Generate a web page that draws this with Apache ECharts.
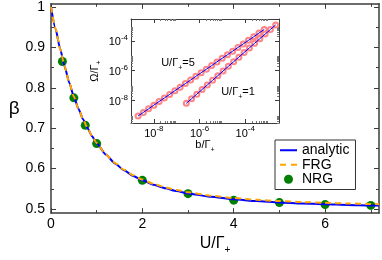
<!DOCTYPE html>
<html><head><meta charset="utf-8">
<script src="https://cdn.jsdelivr.net/npm/echarts@6/dist/echarts.min.js"></script>
<style>html,body{margin:0;padding:0;background:#fff}#c{width:382px;height:260px}</style>
</head><body><div id="c"></div>
<script>
// ---------- main panel data ----------
const U_analytic = [0, 0.1, 0.2, 0.3, 0.4, 0.5, 0.6, 0.7, 0.8, 0.9, 1.0, 1.2, 1.4, 1.6, 1.8, 2.0, 2.25, 2.5, 2.75, 3.0, 3.5, 4.0, 4.5, 5.0, 5.5, 6.0, 6.5, 7.0, 7.18];
const beta_analytic = [1.0, 0.9458, 0.8962, 0.8517, 0.8125, 0.7782, 0.7483, 0.7223, 0.6997, 0.6800, 0.6629, 0.6347, 0.6129, 0.5957, 0.5820, 0.5710, 0.5600, 0.5513, 0.5444, 0.5387, 0.5302, 0.5242, 0.5198, 0.5165, 0.5139, 0.5119, 0.5103, 0.5090, 0.5086];
const U_frg = [0, 0.1, 0.2, 0.3, 0.4, 0.5, 0.6, 0.7, 0.8, 0.9, 1.0, 1.2, 1.4, 1.6, 1.8, 2.0, 2.25, 2.5, 2.75, 3.0, 3.5, 4.0, 4.5, 5.0, 5.5, 6.0, 6.5, 7.0, 7.18];
const beta_frg = [1.0, 0.9458, 0.8962, 0.8517, 0.8125, 0.7782, 0.7484, 0.7224, 0.6999, 0.6803, 0.6633, 0.6352, 0.6139, 0.5970, 0.5836, 0.5729, 0.5622, 0.5537, 0.5470, 0.5415, 0.5332, 0.5273, 0.5230, 0.5198, 0.5172, 0.5153, 0.5138, 0.5125, 0.5121];
const U_nrg = [0.25, 0.5, 0.75, 1, 2, 3, 4, 5, 6, 7];
const beta_nrg = [0.865, 0.775, 0.707, 0.662, 0.571, 0.538, 0.522, 0.516, 0.511, 0.509];

const mainXMajor = [0, 2, 4, 6];
const mainXMinor = [1, 3, 5, 7];
const mainYMajor = [0.5, 0.6, 0.7, 0.8, 0.9, 1];
const mainYMinor = [0.55, 0.65, 0.75, 0.85, 0.95];

// ---------- inset data (log10 values) ----------
const logb_U5 = [-8.69, -8.46, -8.23, -8.00, -7.77, -7.54, -7.31, -7.08, -6.85, -6.62, -6.39, -6.16, -5.93, -5.70, -5.47, -5.24, -5.01, -4.78, -4.55, -4.32, -4.09, -3.86, -3.63, -3.40, -3.17];
const logOmega_U5 = [-9.05, -8.81, -8.57, -8.32, -8.08, -7.84, -7.60, -7.35, -7.11, -6.87, -6.63, -6.38, -6.14, -5.90, -5.66, -5.41, -5.17, -4.93, -4.69, -4.44, -4.20, -3.96, -3.72, -3.47, -3.23];
const logb_U1 = [-6.58, -6.35, -6.12, -5.89, -5.66, -5.43, -5.20, -4.97, -4.74, -4.51, -4.28, -4.05, -3.82, -3.59, -3.36, -3.13, -2.90, -2.67];
const logOmega_U1 = [-8.20, -7.89, -7.58, -7.27, -6.96, -6.65, -6.34, -6.02, -5.71, -5.40, -5.09, -4.78, -4.47, -4.16, -3.85, -3.54, -3.23, -2.92];

const insetMajor = [-8, -6, -4];
const insetDecadesX = [-8, -6, -4];
const insetDecadesY = [-10, -8, -6, -4];

const FONT = 'Liberation Sans, Arial, Helvetica, sans-serif';
const AX = '#3c3c3c';

function zip(a, b) { return a.map((v, i) => [v, b[i]]); }
function minorLog(decades, lo, hi) {
  const out = [];
  decades.forEach(d => { for (let k = 2; k <= 9; k++) { const v = d + Math.log10(k); if (v > lo && v < hi) out.push(v); } });
  return out;
}
const IX = [-9, -2.523], IY = [-9.523, -2.523];
const insetMinorX = minorLog(insetDecadesX, IX[0], IX[1]);
const insetMinorY = minorLog(insetDecadesY, IY[0], IY[1]);

function ax(o) {
  const line = o.line !== false;
  return {
    type: 'value', gridIndex: o.grid, position: o.pos, min: o.min, max: o.max,
    splitLine: { show: false },
    axisLine: { show: line, onZero: false, lineStyle: { color: AX, width: o.lw || 1.5 } },
    axisTick: { show: true, inside: true, length: o.len, customValues: o.ticks, lineStyle: { color: o.tc || AX, width: o.tw || 1 } },
    axisLabel: o.label ? Object.assign({ show: true, customValues: o.ticks, color: '#000', fontFamily: FONT }, o.label) : { show: false },
    name: o.name || '', nameLocation: 'middle', nameGap: o.nameGap || 0, nameRotate: o.nameRotate,
    nameTextStyle: o.nameStyle || {}
  };
}

const supRich = {
  a: { fontSize: 11, fontFamily: FONT, color: '#000', lineHeight: 14, verticalAlign: 'bottom' },
  b: { fontSize: 8, fontFamily: FONT, color: '#000', lineHeight: 14, verticalAlign: 'top' }
};
const supFmt = v => '{a|10}{b|' + Math.round(v) + '}';

const subRich = (fs, sfs) => ({
  a: { fontSize: fs, fontFamily: FONT, color: '#000', lineHeight: fs + 4, verticalAlign: 'bottom' },
  s: { fontSize: sfs, fontFamily: FONT, color: '#000', lineHeight: sfs, verticalAlign: 'bottom', padding: [0, 0, -3, 0] }
});

const MINC = '#777';
const xAxes = [
  ax({ grid: 0, pos: 'bottom', min: 0, max: 7.18, ticks: mainXMajor, len: 5, label: { fontSize: 14, margin: 4 },
       name: '{a|U/Γ}{s|+}', nameGap: 14, nameStyle: { rich: subRich(16, 10) } }),
  ax({ grid: 0, pos: 'bottom', min: 0, max: 7.18, ticks: mainXMinor, len: 3, line: false }),
  ax({ grid: 0, pos: 'top', min: 0, max: 7.18, ticks: mainXMajor, len: 5 }),
  ax({ grid: 0, pos: 'top', min: 0, max: 7.18, ticks: mainXMinor, len: 3, line: false }),
  ax({ grid: 1, pos: 'bottom', min: IX[0], max: IX[1], ticks: insetMajor, len: 4, lw: 1,
       label: { formatter: supFmt, rich: supRich, margin: 2 },
       name: '{a|b/Γ}{s|+}', nameGap: 12, nameStyle: { rich: subRich(11, 7) } }),
  ax({ grid: 1, pos: 'bottom', min: IX[0], max: IX[1], ticks: insetMinorX, len: 2, line: false, tc: MINC }),
  ax({ grid: 1, pos: 'top', min: IX[0], max: IX[1], ticks: insetMajor, len: 4, lw: 1 }),
  ax({ grid: 1, pos: 'top', min: IX[0], max: IX[1], ticks: insetMinorX, len: 2, line: false, tc: MINC })
];
const yAxes = [
  ax({ grid: 0, pos: 'left', min: 0.49, max: 1.0076, ticks: mainYMajor, len: 5, label: { fontSize: 14, margin: 6 },
       name: 'β', nameGap: 27, nameRotate: 0, nameStyle: { fontSize: 19, fontFamily: FONT, color: '#000' } }),
  ax({ grid: 0, pos: 'left', min: 0.49, max: 1.0076, ticks: mainYMinor, len: 3, line: false }),
  ax({ grid: 0, pos: 'right', min: 0.49, max: 1.0076, ticks: mainYMajor, len: 5 }),
  ax({ grid: 0, pos: 'right', min: 0.49, max: 1.0076, ticks: mainYMinor, len: 3, line: false }),
  ax({ grid: 1, pos: 'left', min: IY[0], max: IY[1], ticks: insetMajor, len: 4, lw: 1,
       label: { formatter: supFmt, rich: supRich, margin: 3 },
       name: '{a|Ω/Γ}{s|+}', nameGap: 31, nameRotate: 90, nameStyle: { rich: subRich(11, 7) } }),
  ax({ grid: 1, pos: 'left', min: IY[0], max: IY[1], ticks: insetMinorY, len: 2, line: false, tc: MINC }),
  ax({ grid: 1, pos: 'right', min: IY[0], max: IY[1], ticks: insetMajor, len: 4, lw: 1 }),
  ax({ grid: 1, pos: 'right', min: IY[0], max: IY[1], ticks: insetMinorY, len: 2, line: false, tc: MINC })
];

const ICON_SOLID = 'path://M0,0M0,3.5H17V5.5H0ZM17,9';
const ICON_DASH = 'path://M0,0M0,3.5H6V5.5H0ZM11,3.5H17V5.5H11ZM17,9';
const PINK = '#ff8484';

const chart = echarts.init(document.getElementById('c'), null, { renderer: 'canvas' });
chart.setOption({
  animation: false,
  backgroundColor: '#fff',
  grid: [
    { left: 51, top: 3, width: 328, height: 217 },
    { left: 131, top: 19, width: 148, height: 104, show: true, backgroundColor: '#fff', borderWidth: 0 }
  ],
  xAxis: xAxes,
  yAxis: yAxes,
  legend: {
    data: [{ name: 'analytic', icon: ICON_SOLID }, { name: 'FRG', icon: ICON_DASH }, { name: 'NRG', icon: 'circle' }],
    orient: 'vertical', left: 275, top: 140,
    itemWidth: 17, itemHeight: 9, itemGap: 0,
    padding: [3, 6, 3, 5],
    borderColor: '#333', borderWidth: 1, backgroundColor: '#fff',
    textStyle: { fontSize: 14, fontFamily: FONT, color: '#000', lineHeight: 14.5 }
  },
  graphic: [
    { type: 'text', x: 178, y: 61, style: { text: '{a|U/Γ}{s|+}{a|=5}', align: 'center', verticalAlign: 'middle', rich: subRich(11, 7) } },
    { type: 'text', x: 238, y: 90, style: { text: '{a|U/Γ}{s|+}{a|=1}', align: 'center', verticalAlign: 'middle', rich: subRich(11, 7) } }
  ],
  series: [
    { name: 'analytic', type: 'line', xAxisIndex: 0, yAxisIndex: 0, data: zip(U_analytic, beta_analytic),
      showSymbol: false, symbol: 'none', smooth: 0.2, smoothMonotone: 'x', lineStyle: { color: '#0000ff', width: 2 }, itemStyle: { color: '#0000ff' } },
    { name: 'FRG', type: 'line', xAxisIndex: 0, yAxisIndex: 0, data: zip(U_frg, beta_frg),
      showSymbol: false, symbol: 'none', smooth: 0.2, smoothMonotone: 'x', lineStyle: { color: '#ffa500', width: 2, type: [6, 4] }, itemStyle: { color: '#ffa500' } },
    { name: 'NRG', type: 'scatter', xAxisIndex: 0, yAxisIndex: 0, data: zip(U_nrg, beta_nrg),
      symbol: 'circle', symbolSize: 9, itemStyle: { color: '#008000', opacity: 1 } },
    { name: 'U5pts', type: 'scatter', xAxisIndex: 4, yAxisIndex: 4, data: zip(logb_U5, logOmega_U5),
      symbol: 'emptyCircle', symbolSize: 5, itemStyle: { color: PINK, borderColor: PINK, borderWidth: 0.9, opacity: 1 } },
    { name: 'U1pts', type: 'scatter', xAxisIndex: 4, yAxisIndex: 4, data: zip(logb_U1, logOmega_U1),
      symbol: 'emptyCircle', symbolSize: 5, itemStyle: { color: PINK, borderColor: PINK, borderWidth: 0.9, opacity: 1 } },
    { name: 'U5line', type: 'line', xAxisIndex: 4, yAxisIndex: 4, data: zip(logb_U5, logOmega_U5), z: 3,
      showSymbol: false, symbol: 'none', lineStyle: { color: '#0000ff', width: 1 } },
    { name: 'U1line', type: 'line', xAxisIndex: 4, yAxisIndex: 4, data: zip(logb_U1, logOmega_U1), z: 3,
      showSymbol: false, symbol: 'none', lineStyle: { color: '#0000ff', width: 1 } }
  ]
});
</script>
</body></html>
